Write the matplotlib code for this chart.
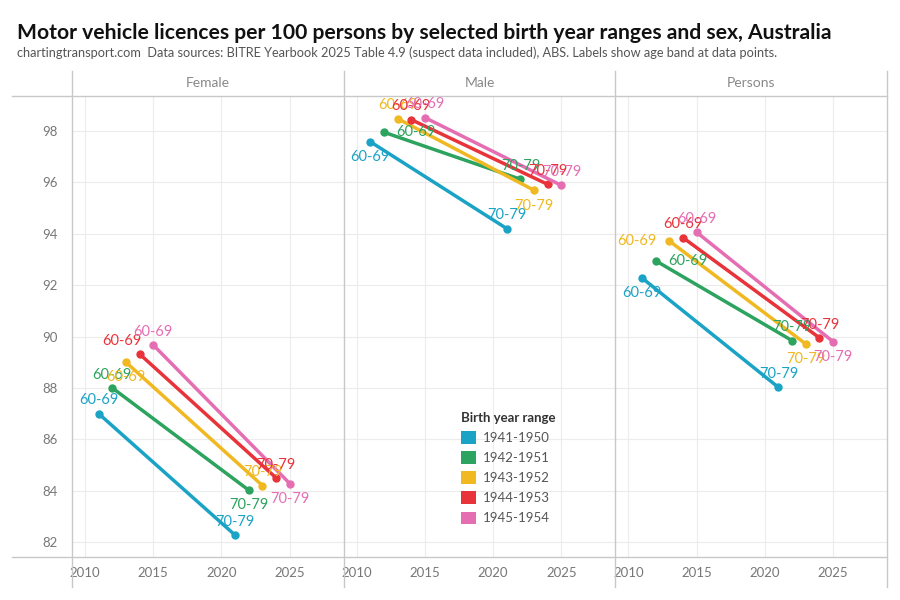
import matplotlib.pyplot as plt
from matplotlib.lines import Line2D
from matplotlib.patches import Patch

plt.rcParams['font.family'] = ['Lato', 'DejaVu Sans']

panels = ["Female", "Male", "Persons"]
ranges = ["1941-1950", "1942-1951", "1943-1952", "1944-1953", "1945-1954"]
colors = ["#1ba3c6", "#2ca35e", "#f0b821", "#e8333a", "#e56eb3"]

# year at age 60-69 and at age 70-79 for each birth range
year_60 = [2011, 2012, 2013, 2014, 2015]
year_70 = [2021, 2022, 2023, 2024, 2025]

# licences per 100 persons, [60-69, 70-79]
female = [[87.0, 82.27], [88.0, 84.02], [89.0, 84.2], [89.32, 84.5], [89.67, 84.28]]
male = [[97.58, 94.2], [97.95, 96.12], [98.48, 95.69], [98.44, 95.92], [98.52, 95.88]]
persons = [[92.28, 88.02], [92.95, 89.84], [93.72, 89.71], [93.85, 89.95], [94.06, 89.8]]
values = [female, male, persons]

# label placement (points offset) per panel, series, [60-69, 70-79]
U, D, R, L = (0, 9.5), (0, -11), (23, 0), (-23, 0)
label_pos = [
    [[U, U], [U, D], [D, U], [(-13, 9.5), U], [U, D]],
    [[D, U], [R, U], [U, D], [U, U], [U, U]],
    [[D, U], [R, U], [L, D], [U, U], [U, D]],
]

fig = plt.figure(figsize=(9, 6), dpi=100)
grey = "#c8c8c8"
grid = "#ececec"
tick_col = "#777777"

left, right, top, bottom = 72, 887, 96, 557
w = (right - left) / 3
axes = []
for i, name in enumerate(panels):
    ax = fig.add_axes([(left + i * w) / 900, 1 - bottom / 600, w / 900, (bottom - top) / 600])
    axes.append(ax)
    ax.set_xlim(2009.05, 2028.95)
    ax.set_ylim(81.42, 99.36)
    ax.set_xticks([2010, 2015, 2020, 2025])
    ax.set_yticks(range(82, 99, 2))
    ax.grid(True, color=grid, linewidth=0.8)
    ax.set_axisbelow(True)
    for s in ax.spines.values():
        s.set_visible(False)
    ax.tick_params(length=0, colors=tick_col, labelsize=9.5, pad=7)
    if i > 0:
        ax.tick_params(labelleft=False)
    else:
        ax.tick_params(axis='y', pad=10)
    ax.text(0.5, 1 + 13.5 / (bottom - top), name, transform=ax.transAxes,
            ha='center', va='center', color="#888888", fontsize=10)

    for j in range(len(ranges)):
        xs = [year_60[j], year_70[j]]
        ys = values[i][j]
        ax.plot(xs, ys, color=colors[j], linewidth=2.5, marker='o', markersize=5,
                solid_capstyle='round', zorder=3)
        for k, lab in enumerate(["60-69", "70-79"]):
            dx, dy = label_pos[i][j][k]
            ax.annotate(lab, (xs[k], ys[k]), xytext=(dx, dy), textcoords='offset points',
                        ha='center', va='center', color=colors[j], fontsize=10.5, zorder=4)

# frame lines
def hline(y, x0=12, x1=887):
    fig.add_artist(Line2D([x0 / 900, x1 / 900], [1 - y / 600, 1 - y / 600], color=grey, linewidth=1))

def vline(x, y0=71, y1=587):
    fig.add_artist(Line2D([x / 900, x / 900], [1 - y0 / 600, 1 - y1 / 600], color=grey, linewidth=1))

hline(96)
hline(557)
for i in range(4):
    vline(left + i * w)

handles = [Patch(facecolor=c, edgecolor='none') for c in colors]
leg = axes[1].legend(handles, ranges, title="Birth year range", loc='lower left',
                     bbox_to_anchor=(0.39, 0.045), frameon=False, fontsize=9.5,
                     title_fontsize=9.5, handlelength=1.1, handleheight=1.1,
                     handletextpad=0.5, labelspacing=0.55, alignment='left')
leg.get_title().set_fontweight('bold')
leg.get_title().set_color("#333333")
for t in leg.get_texts():
    t.set_color("#555555")

fig.text(17 / 900, 1 - 33 / 600, "Motor vehicle licences per 100 persons by selected birth year ranges and sex, Australia",
         fontsize=15.2, fontweight='bold', va='center', ha='left', color="#111111")
fig.text(17 / 900, 1 - 53 / 600, "chartingtransport.com  Data sources: BITRE Yearbook 2025 Table 4.9 (suspect data included), ABS. Labels show age band at data points.",
         fontsize=9.2, va='center', ha='left', color="#555555")

fig.savefig("out.png", dpi=100)
